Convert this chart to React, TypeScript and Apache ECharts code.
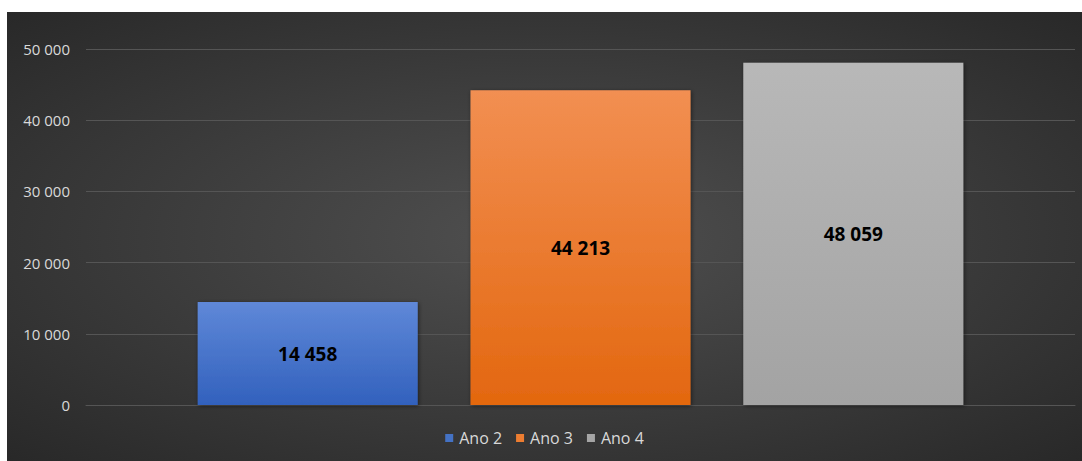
import React, { useEffect, useRef } from "react";
import * as echarts from "echarts";

const categories = [""];
const seriesNames = ["Ano 2", "Ano 3", "Ano 4"];
const values = [14458, 44213, 48059];
const yTicks = { min: 0, max: 50000, interval: 10000 };

const fmt = (v: number) => String(v).replace(/\B(?=(\d{3})+(?!\d))/g, " ");

const colors = [
  ["#5f88d8", "#3261bd"],
  ["#f28f52", "#e3670f"],
  ["#b8b8b8", "#a3a3a3"],
];
const legendColors = ["#4472c4", "#ed7d31", "#a5a5a5"];

export default function App() {
  const ref = useRef<HTMLDivElement>(null);
  useEffect(() => {
    const chart = echarts.init(ref.current!, null, { renderer: "svg" });
    chart.setOption({
      animation: false,
      backgroundColor: {
        type: "radial",
        x: 0.5,
        y: 0.5,
        r: 0.75,
        colorStops: [
          { offset: 0, color: "#505050" },
          { offset: 1, color: "#262626" },
        ],
      },
      grid: { left: 79, right: 7, top: 37, bottom: 56, containLabel: false },
      legend: {
        bottom: 10,
        left: "center",
        itemWidth: 8,
        itemHeight: 8,
        itemGap: 14,
        icon: "rect",
        textStyle: { color: "#d9d9d9", fontSize: 16, fontFamily: "Open Sans", padding: [0, 0, 0, 1] },
        data: seriesNames.map((n, i) => ({ name: n, itemStyle: { color: legendColors[i] } })),
      },
      xAxis: {
        type: "category",
        data: categories,
        axisLine: { show: true, lineStyle: { color: "#555555", width: 1 } },
        axisTick: { show: false },
        axisLabel: { show: false },
      },
      yAxis: {
        type: "value",
        min: yTicks.min,
        max: yTicks.max,
        interval: yTicks.interval,
        axisLine: { show: false },
        axisTick: { show: false },
        splitLine: { lineStyle: { color: "#555555", width: 1 } },
        axisLabel: {
          color: "#d9d9d9",
          fontSize: 15,
          fontFamily: "Open Sans",
          margin: 16,
          formatter: (v: number) => fmt(v),
        },
      },
      series: seriesNames.map((name, i) => ({
        name,
        type: "bar",
        data: [values[i]],
        barWidth: 220,
        barGap: "24%",
        itemStyle: {
          color: {
            type: "linear",
            x: 0,
            y: 0,
            x2: 0,
            y2: 1,
            colorStops: [
              { offset: 0, color: colors[i][0] },
              { offset: 1, color: colors[i][1] },
            ],
          },
          shadowColor: "rgba(0,0,0,0.5)",
          shadowBlur: 4,
          shadowOffsetX: 1,
          shadowOffsetY: 1,
        },
        label: {
          show: true,
          position: "inside",
          color: "#000000",
          fontSize: 19,
          fontWeight: "bold",
          fontFamily: "Open Sans",
          formatter: (p: any) => fmt(p.value),
        },
      })),
    });
    return () => chart.dispose();
  }, []);
  return (
    <div
      ref={ref}
      style={{ position: "absolute", left: 7, top: 12, width: 1075, height: 449 }}
    />
  );
}
